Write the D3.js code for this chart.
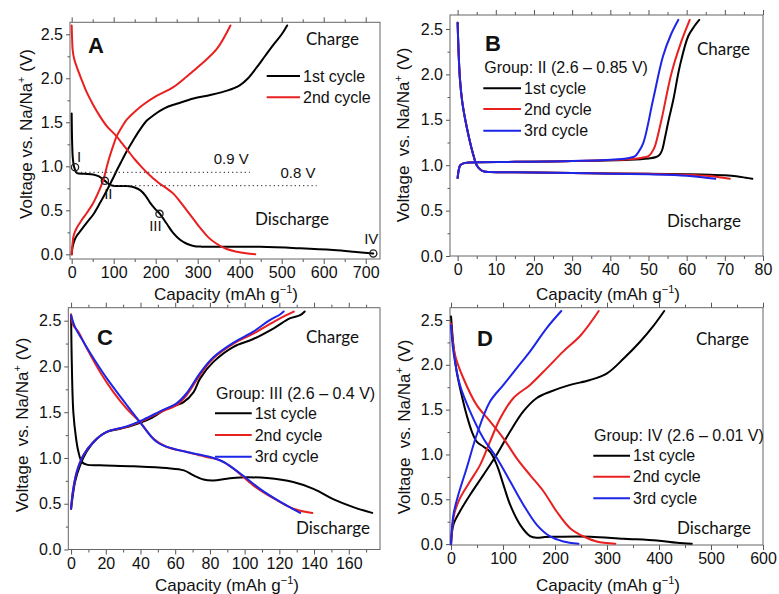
<!DOCTYPE html>
<html>
<head>
<meta charset="utf-8">
<script src="https://cdn.jsdelivr.net/npm/d3@7"></script>
<style>
  body { margin: 0; background: #fff; }
  svg { display: block; }
  text { font-family: "Liberation Sans", Arial, sans-serif; fill: #111; }
  .note { font-family: Lato, "Liberation Sans", sans-serif; }
</style>
</head>
<body>
<svg width="779" height="594"></svg>
<script>
// ---- data: [capacity (mAh/g), voltage (V)] ----
// panel A
var aDis1 = [[0,1.6],[0.5,1.4],[1.2,1.25],[2.4,1.11],[4,1.04],[5.5,1.0],[8,0.96],[12,0.925],[30,0.915],[51,0.908],[65,0.885],[79,0.835],[90,0.795],[99,0.778],[131,0.776],[150,0.76],[163,0.73],[176,0.665],[186,0.59],[198,0.52],[210,0.46],[226,0.35],[242,0.24],[258,0.165],[274,0.12],[290,0.095],[310,0.087],[448,0.085],[544,0.068],[623,0.048],[671,0.03],[718,0.01]];
var aCh1 = [[0,0],[2,0.08],[6,0.15],[12,0.21],[20,0.26],[36,0.36],[51,0.45],[67,0.58],[83,0.72],[99,0.87],[107,0.95],[120,1.07],[131,1.17],[147,1.3],[163,1.42],[179,1.52],[195,1.58],[210,1.63],[230,1.68],[250,1.71],[290,1.77],[330,1.81],[370,1.86],[400,1.92],[420,2.0],[440,2.12],[460,2.25],[480,2.38],[500,2.5],[513,2.6]];
var aDis2 = [[0,2.6],[1,2.45],[2.4,2.32],[6,2.22],[12,2.13],[24,1.98],[36,1.84],[51,1.7],[67,1.57],[83,1.46],[99,1.38],[107,1.34],[120,1.26],[135,1.17],[150,1.08],[165,1.0],[179,0.93],[195,0.86],[210,0.8],[226,0.75],[242,0.69],[258,0.6],[274,0.5],[290,0.4],[306,0.3],[326,0.19],[345,0.12],[369,0.06],[393,0.03],[415,0.012],[437,0]];
var aCh2 = [[0,0],[2,0.12],[5,0.22],[12,0.3],[24,0.39],[36,0.47],[51,0.58],[65,0.72],[75,0.84],[85,1.02],[91,1.12],[100,1.25],[107,1.34],[120,1.45],[131,1.53],[150,1.62],[170,1.7],[202,1.8],[242,1.9],[274,2.02],[306,2.15],[345,2.33],[378,2.6]];
var aMarks = [[8,0.99,"I"],[79,0.835,"II"],[209,0.46,"III"],[718,0.01,"IV"]];
var aRefs = [[12,424,0.93,"0.9 V"],[91,583,0.78,"0.8 V"]];

// panel B
var bDis1 = [[0,2.57],[0.2,2.3],[0.6,1.95],[1.2,1.7],[2,1.5],[3,1.3],[4,1.13],[5,1.0],[6,0.95],[7,0.93],[8.5,0.925],[20,0.92],[35,0.912],[50,0.905],[60,0.9],[66,0.895],[70,0.888],[73,0.878],[75.5,0.862],[77.2,0.85]];
var bDis2 = [[0,2.57],[0.2,2.3],[0.6,1.95],[1.2,1.7],[2,1.5],[3,1.3],[4,1.13],[5,1.0],[6,0.95],[7,0.93],[8.5,0.925],[20,0.92],[35,0.912],[50,0.905],[60,0.895],[66,0.88],[69,0.865],[71.3,0.85]];
var bDis3 = [[0,2.57],[0.2,2.3],[0.6,1.95],[1.2,1.7],[2,1.5],[3,1.3],[4,1.13],[5,1.0],[6,0.95],[7,0.93],[8.5,0.925],[20,0.92],[35,0.91],[50,0.9],[60,0.885],[64.5,0.865],[67.5,0.85]];
var bCh1 = [[0,0.86],[0.3,0.95],[0.7,1.0],[1.5,1.02],[3,1.03],[15,1.037],[30,1.045],[45,1.06],[50,1.075],[52,1.09],[53,1.12],[53.6,1.17],[54.3,1.3],[55.3,1.5],[56.5,1.72],[58.2,2.09],[60.4,2.42],[62,2.53],[63.3,2.6]];
var bCh2 = [[0,0.86],[0.3,0.95],[0.7,1.0],[1.5,1.02],[3,1.03],[15,1.037],[30,1.045],[45,1.065],[48,1.08],[50,1.1],[51,1.15],[51.7,1.21],[53.4,1.5],[56,2.01],[58.5,2.35],[60.8,2.6]];
var bCh3 = [[0,0.86],[0.3,0.95],[0.7,1.0],[1.5,1.02],[3,1.03],[15,1.037],[30,1.045],[42,1.065],[45,1.08],[46.5,1.1],[47.3,1.14],[48.6,1.24],[51.2,1.72],[53.8,2.2],[56,2.45],[57.8,2.6]];

// panel C
var cDis1 = [[0,2.56],[0.4,2.05],[1.3,1.5],[2.9,1.21],[4.2,1.07],[6.2,0.956],[9,0.927],[16.7,0.92],[36,0.909],[55,0.89],[65,0.865],[70.6,0.81],[76.3,0.765],[82,0.755],[89.8,0.774],[97.5,0.788],[113,0.78],[128,0.737],[140,0.66],[151,0.55],[163,0.46],[173.5,0.4]];
var cCh1 = [[0,0.445],[1,0.59],[2.3,0.74],[5.2,0.92],[9,1.07],[14.8,1.21],[20.6,1.285],[28.3,1.32],[36,1.36],[45.6,1.43],[55.2,1.54],[64.8,1.61],[70.6,1.72],[74.4,1.87],[82,2.05],[93.6,2.215],[105,2.3],[117,2.42],[126,2.525],[132,2.56],[134.6,2.6]];
var cDis2 = [[0,2.57],[1.3,2.45],[4.2,2.38],[9,2.2],[16.7,1.94],[24.4,1.72],[32,1.54],[39.8,1.39],[47.5,1.21],[55.2,1.12],[66.7,1.066],[78,1.01],[86,0.974],[93.6,0.883],[105,0.7],[117,0.555],[128,0.445],[139,0.4]];
var cCh2 = [[0,0.445],[1,0.63],[3.3,0.85],[7.1,1.03],[12.9,1.175],[20.6,1.285],[32,1.34],[41.7,1.41],[51.3,1.5],[61,1.58],[66.7,1.69],[74.4,1.91],[82,2.09],[93.6,2.25],[105,2.36],[117,2.49],[124,2.56],[128.3,2.6]];
var cDis3 = [[0,2.56],[2.3,2.43],[7.1,2.27],[12.9,2.09],[20.6,1.87],[32,1.58],[39.8,1.39],[49.4,1.175],[59,1.1],[70.6,1.05],[82,1.0],[87.9,0.956],[97.5,0.83],[109,0.66],[120.6,0.52],[132,0.4]];
var cCh3 = [[0,0.445],[1,0.63],[3.3,0.85],[7.1,1.03],[12.9,1.175],[20.6,1.285],[32,1.345],[41.7,1.42],[51.3,1.51],[61,1.6],[66.7,1.71],[74.4,1.93],[82,2.1],[93.6,2.26],[105,2.38],[114,2.5],[120.6,2.57],[122.5,2.6]];

// panel D
var dDis1 = [[0,2.54],[4.5,2.22],[11,1.92],[20.5,1.66],[30,1.44],[40,1.256],[49.4,1.144],[62,1.088],[75,1.03],[88,0.884],[100.8,0.661],[113.6,0.44],[133,0.215],[152,0.09],[165,0.07],[180,0.08],[203,0.082],[268,0.082],[332,0.06],[396,0.04],[434.5,0.015],[463,0.005]];
var dCh1 = [[0,0],[4.5,0.215],[17,0.364],[36.6,0.55],[62,0.77],[88,1.0],[113.6,1.256],[139,1.48],[165,1.63],[190.6,1.7],[229,1.776],[267.6,1.83],[300,1.905],[332,2.07],[364,2.26],[390,2.44],[410,2.6]];
var dDis2 = [[0,2.46],[7.7,2.11],[23.7,1.85],[49.4,1.55],[75,1.37],[100.8,1.18],[126,0.96],[152,0.77],[178,0.587],[203,0.364],[229,0.178],[255,0.085],[280,0.03],[316,0.005]];
var dCh2 = [[0,0],[5.8,0.327],[17,0.51],[36.6,0.7],[56,0.884],[75,1.144],[94.4,1.4],[120,1.63],[152,1.776],[184,1.96],[216,2.15],[249.5,2.33],[284,2.6]];
var dDis3 = [[0,2.44],[4.5,2.15],[17,1.776],[36.6,1.48],[62,1.18],[88,0.96],[113.6,0.7],[139,0.44],[165,0.215],[190.6,0.085],[216,0.03],[245,0.005]];
var dCh3 = [[0,0],[4.5,0.327],[14,0.55],[30,0.847],[49.4,1.22],[75,1.59],[100.8,1.776],[126,1.96],[152,2.15],[184,2.41],[212,2.6]];

var cycleNames = ["1st cycle", "2nd cycle", "3rd cycle"];
var cycleColors = ["#000000", "#e8201f", "#1d25e8"];

var svg = d3.select("svg");

function drawPanel(p) {
  var x = d3.scaleLinear().domain(p.xDom).range([p.l, p.r]);
  var y = d3.scaleLinear().domain(p.yDom).range([p.b, p.t]);
  var g = svg.append("g");

  var yMajor = [0, 0.5, 1, 1.5, 2, 2.5];
  var yMinor = [0.25, 0.75, 1.25, 1.75, 2.25];
  var xMajor = d3.range(0, p.xMax + 1e-9, p.xStep);
  var xMinor = d3.range(p.xStep / 2, p.xDom[1], p.xStep);

  // bottom axis
  g.append("g").attr("transform", "translate(0," + p.b + ")")
    .call(d3.axisBottom(x).tickValues(xMajor).tickSize(5).tickPadding(3).tickFormat(d3.format("d")));
  g.append("g").attr("transform", "translate(0," + p.b + ")")
    .call(d3.axisBottom(x).tickValues(xMinor).tickSize(3).tickFormat(""));
  // top ticks
  g.append("g").attr("transform", "translate(0," + p.t + ")")
    .call(d3.axisTop(x).tickValues(xMajor).tickSize(5).tickFormat(""));
  g.append("g").attr("transform", "translate(0," + p.t + ")")
    .call(d3.axisTop(x).tickValues(xMinor).tickSize(3).tickFormat(""));
  // left axis
  g.append("g").attr("transform", "translate(" + p.l + ",0)")
    .call(d3.axisLeft(y).tickValues(yMajor).tickSize(4).tickPadding(3).tickFormat(d3.format(".1f")));
  g.append("g").attr("transform", "translate(" + p.l + ",0)")
    .call(d3.axisLeft(y).tickValues(yMinor).tickSize(2.5).tickFormat(""));

  g.selectAll(".domain").remove();
  g.selectAll(".tick line").attr("stroke", "#555");
  g.selectAll(".tick text").attr("font-size", 16).attr("fill", "#111")
    .attr("font-family", "'Liberation Sans', Arial, sans-serif");

  g.append("rect").attr("x", p.l).attr("y", p.t)
    .attr("width", p.r - p.l).attr("height", p.b - p.t)
    .attr("fill", "none").attr("stroke", "#666").attr("stroke-width", 1);

  // x title
  var xt = g.append("text").attr("x", p.xtx).attr("y", p.xty)
    .attr("text-anchor", "middle").attr("font-size", 17);
  xt.append("tspan").text("Capacity (mAh g");
  xt.append("tspan").attr("font-size", 11).attr("dy", -7).text("\u22121");
  xt.append("tspan").attr("dy", 7).text(")");

  // y title
  var yt = g.append("text")
    .attr("transform", "translate(" + p.ytx + "," + p.yty + ") rotate(-90)")
    .attr("text-anchor", "middle").attr("font-size", 17)
    .style("white-space", "pre");
  yt.append("tspan").text(p.ySpace ? "Voltage  vs. Na/Na" : "Voltage vs. Na/Na");
  yt.append("tspan").attr("font-size", 11).attr("dy", -7).text("+");
  yt.append("tspan").attr("dy", 7).text(" (V)");

  // curves
  var line = d3.line().x(d => x(d[0])).y(d => y(d[1])).curve(d3.curveCatmullRom.alpha(0.5));
  p.series.forEach(function (s) {
    g.append("path").datum(s.data).attr("d", line)
      .attr("fill", "none").attr("stroke", s.color).attr("stroke-width", 2)
      .attr("stroke-linejoin", "round").attr("stroke-linecap", "round");
  });

  // panel letter
  g.append("text").attr("x", p.letter[1]).attr("y", p.letter[2])
    .attr("font-size", 22).attr("font-weight", "bold").attr("dominant-baseline", "central")
    .text(p.letter[0]);

  g.append("text").attr("class", "note").attr("x", p.charge[0]).attr("y", p.charge[1])
    .attr("font-size", 17).attr("dominant-baseline", "central").text("Charge");
  g.append("text").attr("class", "note").attr("x", p.discharge[0]).attr("y", p.discharge[1])
    .attr("font-size", 17).attr("dominant-baseline", "central").text("Discharge");

  // legend
  var lg = p.legend;
  if (lg.title) {
    g.append("text").attr("x", lg.titleX).attr("y", lg.titleY).attr("font-size", 16)
      .attr("dominant-baseline", "central").text(lg.title);
  }
  lg.rows.forEach(function (yy, i) {
    g.append("line").attr("x1", lg.x1).attr("x2", lg.x2).attr("y1", yy).attr("y2", yy)
      .attr("stroke", cycleColors[i]).attr("stroke-width", 2);
    g.append("text").attr("x", lg.x2 + 3).attr("y", yy).attr("font-size", 16)
      .attr("dominant-baseline", "central").text(cycleNames[i]);
  });

  return {x: x, y: y, g: g};
}

// panel A
var A = drawPanel({
  l: 70, r: 380, t: 22.3, b: 259, xDom: [-4, 734], yDom: [-0.053, 2.636], xMax: 700, xStep: 100,
  xtx: 226, xty: 300, ytx: 32, yty: 134, ySpace: false,
  series: [{data: aDis1, color: cycleColors[0]}, {data: aCh1, color: cycleColors[0]},
           {data: aDis2, color: cycleColors[1]}, {data: aCh2, color: cycleColors[1]}],
  letter: ["A", 88, 45], charge: [306, 38], discharge: [255, 218],
  legend: {x1: 266.7, x2: 300, rows: [76, 97.3]}
});
A.g.selectAll(".ref").data(aRefs).join("line")
  .attr("x1", d => A.x(d[0])).attr("x2", d => A.x(d[1]))
  .attr("y1", d => A.y(d[2])).attr("y2", d => A.y(d[2]))
  .attr("stroke", "#444").attr("stroke-width", 1.2).attr("stroke-dasharray", "1.2,3");
A.g.selectAll(".reflab").data(aRefs).join("text")
  .attr("x", d => A.x(d[1]) - 1).attr("y", d => A.y(d[2]) - 8)
  .attr("text-anchor", "end").attr("font-size", 15).text(d => d[3]);
A.g.selectAll("circle").data(aMarks).join("circle")
  .attr("cx", d => A.x(d[0])).attr("cy", d => A.y(d[1])).attr("r", 3.6)
  .attr("fill", "none").attr("stroke", "#222").attr("stroke-width", 1.3);
var markOff = [[4, -11], [3.5, 13], [-4, 12], [-2, -15]];
A.g.selectAll(".mlab").data(aMarks).join("text")
  .attr("x", (d, i) => A.x(d[0]) + markOff[i][0]).attr("y", (d, i) => A.y(d[1]) + markOff[i][1])
  .attr("text-anchor", "middle").attr("dominant-baseline", "central")
  .attr("font-size", 15).attr("fill", "#222").text(d => d[2]);

// panel B
drawPanel({
  l: 450, r: 763, t: 15, b: 256, xDom: [-2, 80], yDom: [0, 2.654], xMax: 80, xStep: 10,
  xtx: 608, xty: 300, ytx: 409, yty: 135, ySpace: true,
  series: [{data: bDis1, color: cycleColors[0]}, {data: bCh1, color: cycleColors[0]},
           {data: bDis2, color: cycleColors[1]}, {data: bCh2, color: cycleColors[1]},
           {data: bDis3, color: cycleColors[2]}, {data: bCh3, color: cycleColors[2]}],
  letter: ["B", 485, 43], charge: [697, 48], discharge: [667, 220],
  legend: {title: "Group: II (2.6 \u2013 0.85 V)", titleX: 484.3, titleY: 67, x1: 483.3, x2: 521, rows: [88.3, 109, 130.7]}
});

// panel C
drawPanel({
  l: 68.3, r: 380, t: 307.7, b: 549.5, xDom: [-1.6, 178], yDom: [0, 2.642], xMax: 160, xStep: 20,
  xtx: 227, xty: 590.5, ytx: 28, yty: 425, ySpace: true,
  series: [{data: cDis1, color: cycleColors[0]}, {data: cCh1, color: cycleColors[0]},
           {data: cDis2, color: cycleColors[1]}, {data: cCh2, color: cycleColors[1]},
           {data: cDis3, color: cycleColors[2]}, {data: cCh3, color: cycleColors[2]}],
  letter: ["C", 97, 337], charge: [306, 336], discharge: [296, 527],
  legend: {title: "Group: III (2.6 \u2013 0.4 V)", titleX: 216, titleY: 393, x1: 215, x2: 251.7, rows: [413.3, 435, 456.7]}
});

// panel D
drawPanel({
  l: 450, r: 763, t: 307.7, b: 545, xDom: [-2, 600], yDom: [-0.01, 2.637], xMax: 600, xStep: 100,
  xtx: 608, xty: 590.5, ytx: 410, yty: 427, ySpace: true,
  series: [{data: dDis1, color: cycleColors[0]}, {data: dCh1, color: cycleColors[0]},
           {data: dDis2, color: cycleColors[1]}, {data: dCh2, color: cycleColors[1]},
           {data: dDis3, color: cycleColors[2]}, {data: dCh3, color: cycleColors[2]}],
  letter: ["D", 477, 338], charge: [696, 338], discharge: [677, 527],
  legend: {title: "Group: IV (2.6 \u2013 0.01 V)", titleX: 594, titleY: 435, x1: 593.3, x2: 630, rows: [455.7, 476.7, 498.3]}
});
</script>
</body>
</html>
